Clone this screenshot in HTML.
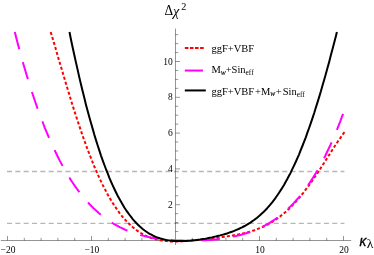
<!DOCTYPE html>
<html><head><meta charset="utf-8"><style>
html,body{margin:0;padding:0;background:#fff;}
body{width:374px;height:255px;overflow:hidden;}
svg{display:block;will-change:transform;font-family:"Liberation Serif",serif;}
</style></head><body>
<svg width="374" height="255" viewBox="0 0 374 255">
<rect width="374" height="255" fill="#fff"/>
<g stroke="#b6b6b6" stroke-width="1.3" stroke-dasharray="5.0 3.34" fill="none">
<path d="M7.0 171.5 H344.4"/>
<path d="M7.0 223.3 H344.4"/>
</g>
<g stroke="#000" stroke-width="0.42" fill="none">
<path d="M0.8 240.5 H351.2"/>
<path d="M175.5 28.6 V245"/>
<path d="M7.50 240.5 v-4.5 M24.30 240.5 v-2.7 M41.10 240.5 v-2.7 M57.90 240.5 v-2.7 M74.70 240.5 v-2.7 M91.50 240.5 v-4.5 M108.30 240.5 v-2.7 M125.10 240.5 v-2.7 M141.90 240.5 v-2.7 M158.70 240.5 v-2.7 M192.30 240.5 v-2.7 M209.10 240.5 v-2.7 M225.90 240.5 v-2.7 M242.70 240.5 v-2.7 M259.50 240.5 v-4.5 M276.30 240.5 v-2.7 M293.10 240.5 v-2.7 M309.90 240.5 v-2.7 M326.70 240.5 v-2.7 M343.50 240.5 v-4.5"/>
<path d="M175.5 231.55 h2.7 M175.5 222.60 h2.7 M175.5 213.65 h2.7 M175.5 204.70 h4.5 M175.5 195.75 h2.7 M175.5 186.80 h2.7 M175.5 177.85 h2.7 M175.5 168.90 h4.5 M175.5 159.95 h2.7 M175.5 151.00 h2.7 M175.5 142.05 h2.7 M175.5 133.10 h4.5 M175.5 124.15 h2.7 M175.5 115.20 h2.7 M175.5 106.25 h2.7 M175.5 97.30 h4.5 M175.5 88.35 h2.7 M175.5 79.40 h2.7 M175.5 70.45 h2.7 M175.5 61.50 h4.5 M175.5 52.55 h2.7 M175.5 43.60 h2.7 M175.5 34.65 h2.7"/>
</g>
<g fill="none" stroke-width="2" stroke-linejoin="round">
<path d="M50.7 32.0 L52.2 36.9 L53.9 42.6 L55.6 48.3 L57.2 54.1 L58.9 59.9 L60.6 65.6 L62.3 71.3 L64.0 77.0 L65.7 82.7 L67.4 88.3 L69.1 93.8 L70.7 99.3 L72.4 104.7 L74.1 110.1 L75.8 115.3 L77.5 120.5 L79.2 125.6 L80.9 130.6 L82.5 135.4 L84.2 140.2 L85.9 144.9 L87.6 149.4 L89.3 153.9 L91.0 158.2 L92.7 162.4 L94.3 166.5 L96.0 170.4 L97.7 174.3 L99.4 178.0 L101.1 181.6 L102.8 185.1 L104.5 188.4 L106.2 191.6 L107.8 194.7 L109.5 197.7 L111.2 200.6 L112.9 203.3 L114.6 205.9 L116.3 208.4 L118.0 210.8 L119.6 213.1 L121.3 215.3 L123.0 217.3 L124.7 219.3 L126.4 221.1 L128.1 222.9 L129.8 224.5 L131.4 226.1 L133.1 227.5 L134.8 228.9 L136.5 230.2 L138.2 231.3 L139.9 232.4 L141.6 233.5 L143.3 234.4 L144.9 235.3 L146.6 236.1 L148.3 236.8 L150.0 237.5 L151.7 238.1 L153.4 238.6 L155.1 239.1 L156.7 239.5 L158.4 239.9 L160.1 240.3 L161.8 240.5 L163.5 240.8 L165.2 241.0 L166.9 241.1 L168.6 241.3 L170.2 241.4 L171.9 241.4 L173.6 241.5 L175.3 241.5 L177.0 241.5 L178.7 241.4 L180.4 241.4 L182.0 241.3 L183.7 241.2 L185.4 241.1 L187.1 241.0 L188.8 240.9 L190.5 240.7 L192.2 240.6 L193.8 240.4 L195.5 240.2 L197.2 240.1 L198.9 239.9 L200.6 239.7 L202.3 239.5 L204.0 239.3 L205.7 239.1 L207.3 238.9 L209.0 238.7 L210.7 238.5 L212.4 238.3 L214.1 238.1 L215.8 237.9 L217.5 237.7 L219.1 237.5 L220.8 237.2 L222.5 237.0 L224.2 236.8 L225.9 236.5 L227.6 236.3 L229.3 236.0 L230.9 235.8 L232.6 235.5 L234.3 235.2 L236.0 234.9 L237.7 234.6 L239.4 234.2 L241.1 233.9 L242.8 233.5 L244.4 233.1 L246.1 232.7 L247.8 232.2 L249.5 231.8 L251.2 231.2 L252.9 230.7 L254.6 230.2 L256.2 229.6 L257.9 228.9 L259.6 228.2 L261.3 227.5 L263.0 226.8 L264.7 226.0 L266.4 225.1 L268.0 224.3 L269.7 223.3 L271.4 222.3 L273.1 221.3 L274.8 220.2 L276.5 219.1 L278.2 217.9 L279.9 216.6 L281.5 215.3 L283.2 213.9 L284.9 212.5 L286.6 211.0 L288.3 209.4 L290.0 207.8 L291.7 206.1 L293.3 204.4 L295.0 202.5 L296.7 200.7 L298.4 198.7 L300.1 196.8 L301.8 194.7 L303.5 192.6 L305.1 190.4 L306.8 188.2 L308.5 185.9 L310.2 183.6 L311.9 181.2 L313.6 178.8 L315.3 176.3 L317.0 173.8 L318.6 171.2 L320.3 168.7 L322.0 166.1 L323.7 163.5 L325.4 160.8 L327.1 158.2 L328.8 155.5 L330.4 152.9 L332.1 150.2 L333.8 147.6 L335.5 145.0 L337.2 142.5 L338.9 140.0 L340.6 137.6 L342.2 135.2 L343.9 132.9 L344.8 131.8" stroke="#ff0000" stroke-dasharray="3.06 2.135"/>
<path d="M14.8 32.0 L16.3 38.0 L18.0 44.4 L19.7 50.6 L21.3 56.7 L23.0 62.7 L24.7 68.5 L26.4 74.2 L28.1 79.7 L29.7 85.1 L31.4 90.4 L33.1 95.5 L34.8 100.5 L36.4 105.3 L38.1 110.1 L39.8 114.7 L41.5 119.2 L43.2 123.5 L44.8 127.8 L46.5 131.9 L48.2 135.9 L49.9 139.8 L51.5 143.6 L53.2 147.3 L54.9 150.8 L56.6 154.3 L58.3 157.7 L59.9 160.9 L61.6 164.1 L63.3 167.2 L65.0 170.2 L66.6 173.1 L68.3 175.8 L70.0 178.6 L71.7 181.2 L73.4 183.7 L75.0 186.2 L76.7 188.5 L78.4 190.8 L80.1 193.0 L81.8 195.2 L83.4 197.2 L85.1 199.2 L86.8 201.2 L88.5 203.0 L90.1 204.8 L91.8 206.5 L93.5 208.2 L95.2 209.8 L96.9 211.3 L98.5 212.8 L100.2 214.2 L101.9 215.6 L103.6 216.9 L105.2 218.2 L106.9 219.4 L108.6 220.5 L110.3 221.7 L112.0 222.7 L113.6 223.8 L115.3 224.7 L117.0 225.7 L118.7 226.6 L120.3 227.4 L122.0 228.2 L123.7 229.0 L125.4 229.8 L127.1 230.5 L128.7 231.2 L130.4 231.8 L132.1 232.4 L133.8 233.0 L135.4 233.6 L137.1 234.1 L138.8 234.6 L140.5 235.1 L142.2 235.5 L143.8 235.9 L145.5 236.3 L147.2 236.7 L148.9 237.1 L150.5 237.4 L152.2 237.7 L153.9 238.0 L155.6 238.3 L157.3 238.5 L158.9 238.8 L160.6 239.0 L162.3 239.2 L164.0 239.4 L165.7 239.6 L167.3 239.8 L169.0 239.9 L170.7 240.0 L172.4 240.2 L174.0 240.3 L175.7 240.4 L177.4 240.5 L179.1 240.5 L180.8 240.6 L182.4 240.6 L184.1 240.7 L185.8 240.7 L187.5 240.7 L189.1 240.7 L190.8 240.7 L192.5 240.7 L194.2 240.7 L195.9 240.7 L197.5 240.6 L199.2 240.6 L200.9 240.5 L202.6 240.4 L204.2 240.3 L205.9 240.2 L207.6 240.1 L209.3 240.0 L211.0 239.9 L212.6 239.7 L214.3 239.5 L216.0 239.4 L217.7 239.2 L219.3 239.0 L221.0 238.8 L222.7 238.5 L224.4 238.3 L226.1 238.0 L227.7 237.7 L229.4 237.4 L231.1 237.1 L232.8 236.8 L234.4 236.4 L236.1 236.0 L237.8 235.6 L239.5 235.2 L241.2 234.8 L242.8 234.3 L244.5 233.8 L246.2 233.3 L247.9 232.8 L249.6 232.2 L251.2 231.6 L252.9 231.0 L254.6 230.3 L256.3 229.6 L257.9 228.9 L259.6 228.1 L261.3 227.3 L263.0 226.5 L264.7 225.6 L266.3 224.7 L268.0 223.8 L269.7 222.8 L271.4 221.7 L273.0 220.7 L274.7 219.5 L276.4 218.4 L278.1 217.1 L279.8 215.9 L281.4 214.5 L283.1 213.2 L284.8 211.7 L286.5 210.2 L288.1 208.7 L289.8 207.1 L291.5 205.4 L293.2 203.7 L294.9 201.9 L296.5 200.0 L298.2 198.1 L299.9 196.1 L301.6 194.0 L303.2 191.8 L304.9 189.6 L306.6 187.3 L308.3 184.9 L310.0 182.4 L311.6 179.9 L313.3 177.2 L315.0 174.5 L316.7 171.7 L318.3 168.8 L320.0 165.8 L321.7 162.7 L323.4 159.5 L325.1 156.2 L326.7 152.8 L328.4 149.3 L330.1 145.7 L331.8 141.9 L333.5 138.1 L335.1 134.1 L336.8 130.1 L338.5 125.9 L340.2 121.6 L341.8 117.2 L343.1 113.8" stroke="#ff00ff" stroke-dasharray="17.7 13.5"/>
<path d="M69.5 32.0 L70.8 38.7 L72.5 46.7 L74.2 54.5 L75.9 62.1 L77.6 69.6 L79.2 76.9 L80.9 84.0 L82.6 91.0 L84.3 97.8 L85.9 104.4 L87.6 110.8 L89.3 117.0 L91.0 123.1 L92.7 128.9 L94.3 134.6 L96.0 140.1 L97.7 145.5 L99.4 150.6 L101.0 155.6 L102.7 160.4 L104.4 165.0 L106.1 169.5 L107.8 173.7 L109.4 177.9 L111.1 181.8 L112.8 185.6 L114.5 189.2 L116.2 192.7 L117.8 196.0 L119.5 199.1 L121.2 202.1 L122.9 205.0 L124.5 207.7 L126.2 210.3 L127.9 212.7 L129.6 215.0 L131.3 217.2 L132.9 219.3 L134.6 221.2 L136.3 223.0 L138.0 224.7 L139.6 226.3 L141.3 227.8 L143.0 229.2 L144.7 230.5 L146.4 231.7 L148.0 232.8 L149.7 233.8 L151.4 234.7 L153.1 235.6 L154.7 236.4 L156.4 237.1 L158.1 237.7 L159.8 238.3 L161.5 238.8 L163.1 239.2 L164.8 239.6 L166.5 240.0 L168.2 240.3 L169.8 240.5 L171.5 240.7 L173.2 240.9 L174.9 241.0 L176.6 241.1 L178.2 241.1 L179.9 241.1 L181.6 241.1 L183.3 241.1 L184.9 241.0 L186.6 240.9 L188.3 240.8 L190.0 240.7 L191.7 240.5 L193.3 240.3 L195.0 240.2 L196.7 239.9 L198.4 239.7 L200.1 239.5 L201.7 239.2 L203.4 238.9 L205.1 238.7 L206.8 238.4 L208.4 238.0 L210.1 237.7 L211.8 237.4 L213.5 237.0 L215.2 236.6 L216.8 236.2 L218.5 235.8 L220.2 235.4 L221.9 234.9 L223.5 234.5 L225.2 234.0 L226.9 233.5 L228.6 232.9 L230.3 232.3 L231.9 231.7 L233.6 231.1 L235.3 230.4 L237.0 229.7 L238.6 229.0 L240.3 228.2 L242.0 227.4 L243.7 226.5 L245.4 225.6 L247.0 224.7 L248.7 223.6 L250.4 222.6 L252.1 221.4 L253.7 220.3 L255.4 219.0 L257.1 217.7 L258.8 216.3 L260.5 214.8 L262.1 213.3 L263.8 211.7 L265.5 210.0 L267.2 208.2 L268.8 206.3 L270.5 204.3 L272.2 202.3 L273.9 200.1 L275.6 197.8 L277.2 195.5 L278.9 193.0 L280.6 190.4 L282.3 187.7 L284.0 184.9 L285.6 182.0 L287.3 179.0 L289.0 175.8 L290.7 172.6 L292.3 169.1 L294.0 165.6 L295.7 162.0 L297.4 158.2 L299.1 154.3 L300.7 150.2 L302.4 146.0 L304.1 141.7 L305.8 137.3 L307.4 132.7 L309.1 128.0 L310.8 123.1 L312.5 118.1 L314.2 113.0 L315.8 107.8 L317.5 102.4 L319.2 96.9 L320.9 91.3 L322.5 85.5 L324.2 79.7 L325.9 73.7 L327.6 67.6 L329.3 61.4 L330.9 55.1 L332.6 48.7 L334.3 42.2 L336.0 35.7 L336.9 32.0" stroke="#000"/>
</g>
<g font-size="9.5px" fill="#000" text-anchor="middle">
<text x="8" y="252.7">−20</text>
<text x="91.9" y="252.7">−10</text>
<text x="260" y="252.7">10</text>
<text x="344" y="252.7">20</text>
</g>
<g font-size="9.5px" fill="#000" text-anchor="end">
<text x="172.7" y="207.8">2</text>
<text x="172.7" y="172.0">4</text>
<text x="172.7" y="136.2">6</text>
<text x="172.7" y="100.4">8</text>
<text x="172.7" y="64.6">10</text>
</g>
<text transform="translate(164.39 15.10) scale(0.983 1)" font-family="Liberation Serif, serif" font-size="13.63px" >Δ</text>
<text transform="translate(173.04 15.55) scale(1.029 1)" font-family="Liberation Serif, serif" font-style="italic" font-size="13.84px" >χ</text>
<text transform="translate(181.35 9.90) scale(1.026 1)" font-family="Liberation Serif, serif" font-size="9.97px" >2</text>
<text transform="translate(359.47 245.50) scale(0.916 1)" font-family="Liberation Sans, sans-serif" font-style="italic" font-size="14.95px" stroke="#000" stroke-width="0.35">κ</text>
<text transform="translate(366.64 248.10) scale(1.133 1)" font-family="Liberation Serif, serif" font-size="12.07px" >λ</text>
<g stroke-width="2" fill="none">
<path d="M184.8 47.95 H203.9" stroke="#ff0000" stroke-dasharray="3.6 1.5"/>
<path d="M184.8 70.55 H203.0" stroke="#ff00ff"/>
<path d="M184.8 90.45 H205.8" stroke="#000"/>
</g>
<g font-size="10.5px" fill="#000">
<text x="211.5" y="51.6">ggF+VBF</text>
<text x="211.5" y="73.1">M<tspan font-size="7.5px" font-style="italic" stroke="#000" stroke-width="0.12" dy="1.8">w</tspan><tspan dy="-1.8" dx="-0.2">+Sin</tspan><tspan font-size="7.4px" dy="2.3">eff</tspan></text>
<text x="211.5" y="94.5">ggF+VBF<tspan dx="0.8">+M</tspan><tspan font-size="7.5px" font-style="italic" stroke="#000" stroke-width="0.12" dy="1.8">w</tspan><tspan dy="-1.8" dx="0.45">+</tspan><tspan dx="1.0">Sin</tspan><tspan font-size="7.4px" dy="2.3">eff</tspan></text>
</g>
</svg>
</body></html>
